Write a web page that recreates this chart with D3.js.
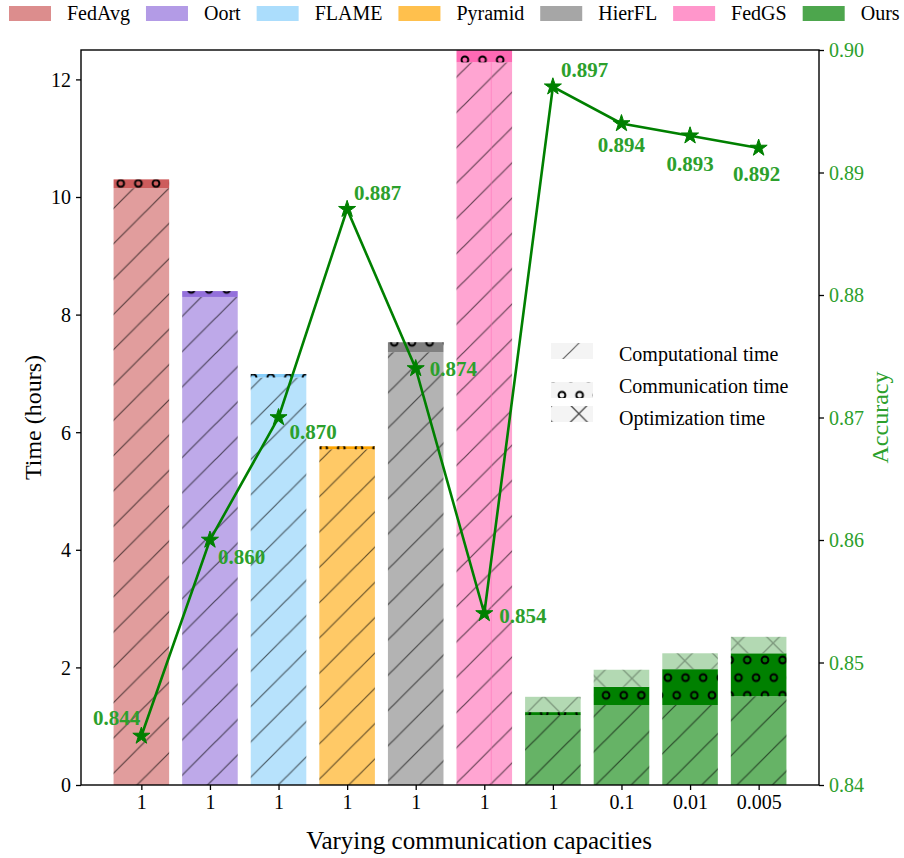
<!DOCTYPE html>
<html>
<head>
<meta charset="utf-8">
<script src="https://cdn.jsdelivr.net/npm/d3@7"></script>
<style>
  html, body { margin: 0; padding: 0; background: #fff; }
  svg { display: block; }
  text { font-family: "Liberation Serif", "Times New Roman", serif; }
</style>
</head>
<body>
<svg id="chart" width="904" height="858"></svg>
<script>
// ---------------- data ----------------
const methods = ["FedAvg", "Oort", "FLAME", "Pyramid", "HierFL", "FedGS", "Ours"];
const methodColors = ["#cd5c5c", "#9370db", "#87cefa", "#ffa500", "#808080", "#ff69b4", "#008000"];
const xLabels = ["1", "1", "1", "1", "1", "1", "1", "0.1", "0.01", "0.005"];
const barMethod = [0, 1, 2, 3, 4, 5, 6, 6, 6, 6];
const compTime = [10.15, 8.30, 6.93, 5.71, 7.36, 12.29, 1.19, 1.36, 1.36, 1.51];
const commTime = [0.15, 0.10, 0.06, 0.05, 0.17, 0.30, 0.05, 0.31, 0.61, 0.73];
const optTime  = [0, 0, 0, 0, 0, 0, 0.26, 0.29, 0.27, 0.28];
const accuracy = [0.844, 0.860, 0.870, 0.887, 0.874, 0.854, 0.897, 0.894, 0.893, 0.892];
const timeTicks = [0, 2, 4, 6, 8, 10, 12];
const accTicks = [0.84, 0.85, 0.86, 0.87, 0.88, 0.89, 0.90];
const hatchLegend = ["Computational time", "Communication time", "Optimization time"];

// label placement (style, not data)
const labelPlacement = [
  {dx: -1, dy: -11, anchor: "end"},
  {dx: 8, dy: 24, anchor: "start"},
  {dx: 11, dy: 21, anchor: "start"},
  {dx: 7, dy: -9, anchor: "start"},
  {dx: 14, dy: 7, anchor: "start"},
  {dx: 15, dy: 9, anchor: "start"},
  {dx: 8, dy: -10, anchor: "start"},
  {dx: 0, dy: 28, anchor: "middle"},
  {dx: 0, dy: 35, anchor: "middle"},
  {dx: -2, dy: 33, anchor: "middle"}
];

// ---------------- layout ----------------
const L = 81, R = 819, T = 50, B = 785;
const svg = d3.select("#chart");
const x = d3.scaleLinear().domain([-0.88, 9.88]).range([L, R]);
const y = d3.scaleLinear().domain([0, 12.5]).range([B, T]);
const y2 = d3.scaleLinear().domain([0.84, 0.90]).range([B, T]);
const barW = 0.81;
const labelGreen = "#2ca02c";

// ---------------- patterns ----------------
const S = 35.3, H2 = S / 2;
const defs = svg.append("defs");
defs.append("clipPath").attr("id", "plotClip")
  .append("rect").attr("x", L).attr("y", T).attr("width", R - L).attr("height", B - T);

const pSlash = defs.append("pattern").attr("id", "hSlash")
  .attr("patternUnits", "userSpaceOnUse").attr("width", S).attr("height", S)
  .attr("x", 4.2).attr("y", 0);
[[-S, S, S, -S], [0, 2 * S, 2 * S, 0], [0, S, S, 0]].forEach(c => {
  pSlash.append("line").attr("x1", c[0]).attr("y1", c[1]).attr("x2", c[2]).attr("y2", c[3])
    .attr("stroke", "#000").attr("stroke-width", 1.2);
});

const pX = defs.append("pattern").attr("id", "hX")
  .attr("patternUnits", "userSpaceOnUse").attr("width", S).attr("height", S)
  .attr("x", 4.2).attr("y", 0);
[[-S, S, S, -S], [0, 2 * S, 2 * S, 0], [0, S, S, 0]].forEach(c => {
  pX.append("line").attr("x1", c[0]).attr("y1", c[1]).attr("x2", c[2]).attr("y2", c[3])
    .attr("stroke", "#000").attr("stroke-width", 1.3);
});
[19.8, 19.8 - S, 19.8 + S].forEach(k => {
  pX.append("line").attr("x1", k - S).attr("y1", -S).attr("x2", k + 2 * S).attr("y2", 2 * S)
    .attr("stroke", "#000").attr("stroke-width", 1.3);
});

const pO = defs.append("pattern").attr("id", "hO")
  .attr("patternUnits", "userSpaceOnUse").attr("width", H2).attr("height", S)
  .attr("x", 6.0).attr("y", 24.6);
[[0, 0], [H2, 0], [0, S], [H2, S], [H2 / 2, H2]].forEach(c => {
  pO.append("circle").attr("cx", c[0]).attr("cy", c[1]).attr("r", 3.4)
    .attr("fill", "none").attr("stroke", "#000").attr("stroke-width", 1.9);
});

// ---------------- bars ----------------
const alphaMix = (hex, a) => {
  const c = d3.rgb(hex);
  return d3.rgb(c.r * a + 255 * (1 - a), c.g * a + 255 * (1 - a), c.b * a + 255 * (1 - a)).formatHex();
};

const plot = svg.append("g").attr("clip-path", "url(#plotClip)");
const idx = d3.range(xLabels.length);

function drawSegment(i, y0v, y1v, fill, hatch, hatchOpacity) {
  if (y1v <= y0v) return;
  const xx = x(i - barW / 2), ww = x(i + barW / 2) - x(i - barW / 2);
  const yy = y(y1v), hh = y(y0v) - y(y1v);
  plot.append("rect").attr("x", xx).attr("y", yy).attr("width", ww).attr("height", hh).attr("fill", fill);
  plot.append("rect").attr("x", xx).attr("y", yy).attr("width", ww).attr("height", hh)
    .attr("fill", `url(#${hatch})`).attr("opacity", hatchOpacity);
}

idx.forEach(i => {
  const col = methodColors[barMethod[i]];
  const c0 = 0, c1 = compTime[i], m1 = c1 + commTime[i], o1 = m1 + optTime[i];
  drawSegment(i, c0, c1, alphaMix(col, 0.6), "hSlash", 0.6);
  drawSegment(i, c1, m1, col, "hO", 1);
  drawSegment(i, m1, o1, alphaMix(col, 0.3), "hX", 0.3);
});

// faint seam inside the FedGS bar
plot.append("line")
  .attr("x1", x(5) + 7).attr("x2", x(5) + 7)
  .attr("y1", y(compTime[5])).attr("y2", B)
  .attr("stroke", methodColors[5]).attr("stroke-opacity", 0.45).attr("stroke-width", 1);

// ---------------- accuracy line ----------------
const line = d3.line().x((d, i) => x(i)).y(d => y2(d));
svg.append("path").datum(accuracy).attr("d", line)
  .attr("fill", "none").attr("stroke", "#008000").attr("stroke-width", 2.6);
svg.selectAll(".star").data(accuracy).enter().append("path")
  .attr("d", d3.symbol().type(d3.symbolStar).size(90))
  .attr("transform", (d, i) => `translate(${x(i)},${y2(d)})`)
  .attr("fill", "#008000").attr("stroke", "#008000").attr("stroke-width", 1);

svg.selectAll(".acclabel").data(accuracy).enter().append("text")
  .attr("x", (d, i) => x(i) + labelPlacement[i].dx)
  .attr("y", (d, i) => y2(d) + labelPlacement[i].dy)
  .attr("text-anchor", (d, i) => labelPlacement[i].anchor)
  .attr("font-size", 21).attr("font-weight", "bold").attr("fill", labelGreen)
  .text(d => d.toFixed(3));

// ---------------- axes ----------------
const axisStyle = g => {
  g.selectAll(".domain").remove();
  g.selectAll(".tick line").attr("stroke", "#000").attr("stroke-width", 1.3);
  g.selectAll(".tick text").attr("font-family", "Liberation Serif, serif").attr("font-size", 20);
};

const xAxis = d3.axisBottom(x).tickValues(idx).tickFormat(i => xLabels[i]).tickSize(5).tickPadding(5);
svg.append("g").attr("transform", `translate(0,${B})`).call(xAxis).call(axisStyle)
  .selectAll(".tick text").attr("fill", "#000");

const yAxis = d3.axisLeft(y).tickValues(timeTicks).tickFormat(d3.format("d")).tickSize(5).tickPadding(5);
svg.append("g").attr("transform", `translate(${L},0)`).call(yAxis).call(axisStyle)
  .selectAll(".tick text").attr("fill", "#000").attr("dy", "0.34em");

const yAxis2 = d3.axisRight(y2).tickValues(accTicks).tickFormat(d3.format(".2f")).tickSize(5).tickPadding(5);
svg.append("g").attr("transform", `translate(${R},0)`).call(yAxis2).call(axisStyle)
  .selectAll(".tick text").attr("fill", labelGreen).attr("dy", "0.34em");

// spines
svg.append("rect").attr("x", L).attr("y", T).attr("width", R - L).attr("height", B - T)
  .attr("fill", "none").attr("stroke", "#000").attr("stroke-width", 1.4);

// axis titles
svg.append("text").attr("x", 479).attr("y", 849).attr("text-anchor", "middle")
  .attr("font-size", 25).attr("fill", "#000").text("Varying communication capacities");
svg.append("text").attr("transform", `translate(41,${(T + B) / 2}) rotate(-90)`)
  .attr("text-anchor", "middle").attr("font-size", 24).attr("fill", "#000").text("Time (hours)");
svg.append("text").attr("transform", `translate(888,${(T + B) / 2}) rotate(-90)`)
  .attr("text-anchor", "middle").attr("font-size", 24).attr("fill", labelGreen).text("Accuracy");

// ---------------- top legend ----------------
let lx = 9;
methods.forEach((m, i) => {
  svg.append("rect").attr("x", lx).attr("y", 6).attr("width", 42).attr("height", 15)
    .attr("fill", alphaMix(methodColors[i], 0.7));
  const t = svg.append("text").attr("x", lx + 58).attr("y", 19.5)
    .attr("font-size", 20).attr("fill", "#000").text(m);
  lx = lx + 58 + t.node().getComputedTextLength() + 16;
});

// ---------------- hatch legend ----------------
const hRows = [{top: 343, base: 361}, {top: 382, base: 393}, {top: 406, base: 425}];
const hPat = ["hSlash", "hO", "hX"];
const hOp = [0.6, 1, 0.7];
hatchLegend.forEach((lab, i) => {
  const r = hRows[i];
  svg.append("rect").attr("x", 551).attr("y", r.top).attr("width", 42).attr("height", 16).attr("fill", "#f4f4f4");
  svg.append("rect").attr("x", 551).attr("y", r.top).attr("width", 42).attr("height", 16)
    .attr("fill", `url(#${hPat[i]})`).attr("opacity", hOp[i]);
  svg.append("text").attr("x", 619).attr("y", r.base).attr("font-size", 20).attr("fill", "#000").text(lab);
});
</script>
</body>
</html>
